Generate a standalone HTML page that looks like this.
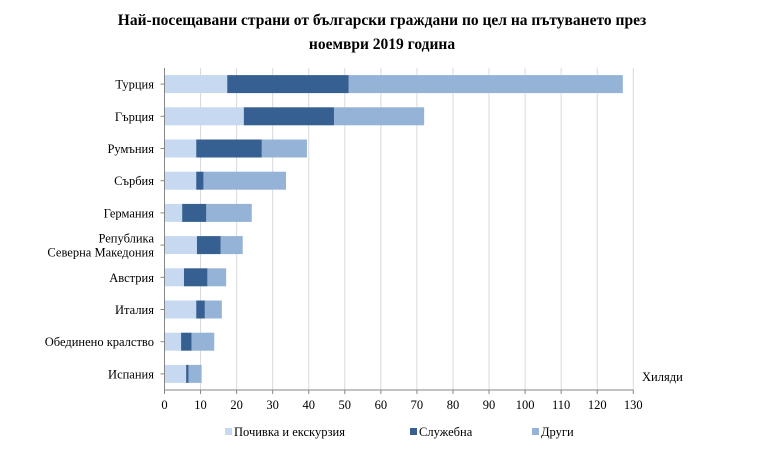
<!DOCTYPE html>
<html><head><meta charset="utf-8">
<style>
html,body{margin:0;padding:0;background:#fff;}
svg text{font-family:"Liberation Serif","DejaVu Serif",serif;fill:#000;}
</style></head>
<body>
<svg id="chart" width="768" height="460" viewBox="0 0 768 460" xmlns="http://www.w3.org/2000/svg">
<text x="382" y="25" text-anchor="middle" font-size="15.5" font-weight="bold">Най-посещавани страни от български граждани по цел на пътуването през</text>
<text x="382" y="49" text-anchor="middle" font-size="15.5" font-weight="bold">ноември 2019 година</text>
<g id="grid"></g>
<g id="bars"></g>
<g id="axes"></g>
<text x="642" y="381" font-size="12.5">Хиляди</text>
<g id="legend"></g>
</svg>
<script>
const categories = ["Турция","Гърция","Румъния","Сърбия","Германия","Република|Северна Македония","Австрия","Италия","Обединено кралство","Испания"];
const leisure = [17.4, 22, 8.8, 8.8, 4.9, 9, 5.4, 8.8, 4.6, 6];
const business = [33.7, 25, 18.2, 2, 6.7, 6.6, 6.5, 2.4, 2.9, 0.7];
const other = [76, 25, 12.5, 22.9, 12.6, 6.1, 5.2, 4.7, 6.3, 3.6];
const seriesNames = ["Почивка и екскурзия","Служебна","Други"];
const xTicks = [0,10,20,30,40,50,60,70,80,90,100,110,120,130];

const NS="http://www.w3.org/2000/svg";
const x0=164.5, unit=3.606, plotTop=68, band=32.2, barH=18, axisY=390;
const colors=["#c6d9f1","#376092","#95b3d7"];
const xs=v=>x0+v*unit;
const yc=i=>plotTop+band*i+band/2;
function mk(tag,attrs,parent){const e=document.createElementNS(NS,tag);for(const k in attrs)e.setAttribute(k,attrs[k]);parent.appendChild(e);return e;}
const grid=document.getElementById('grid'),bars=document.getElementById('bars'),axes=document.getElementById('axes'),legend=document.getElementById('legend');
xTicks.forEach(t=>{
  if(t>0){const g=mk('line',{x1:xs(t),x2:xs(t),y1:plotTop,y2:axisY,stroke:'#d9d9d9','stroke-width':1},grid);
  
  }
  const tk=mk('line',{x1:xs(t),x2:xs(t),y1:axisY,y2:axisY+4,stroke:'#868686'},axes);
  
  
  const tl=mk('text',{x:xs(t),y:axisY+19,'text-anchor':'middle','font-size':12.5},axes);
  tl.textContent=t;
  
  
});
const series=[leisure,business,other];
categories.forEach((c,i)=>{
  let acc=0;
  series.forEach((s,j)=>{
    const r=mk('rect',{x:xs(acc),y:yc(i)-barH/2,width:s[i]*unit,height:barH,fill:colors[j]},bars);
    
    
    acc+=s[i];
  });
  const t=mk('line',{x1:x0-4,x2:x0,y1:yc(i),y2:yc(i),stroke:'#868686'},axes);
  
  
  const parts=c.split('|');
  const lbl=mk('text',{x:154,y:yc(i)+4.5-(parts.length-1)*7,'text-anchor':'end','font-size':12.5},axes);
  
  
  parts.forEach((p,k)=>{const ts=mk('tspan',{x:154,dy:k?14:0},lbl);ts.textContent=p;});
});
const ya=mk('line',{x1:x0,x2:x0,y1:plotTop,y2:axisY,stroke:'#868686'},axes);


const xa=mk('line',{x1:x0,x2:xs(130),y1:axisY,y2:axisY,stroke:'#868686'},axes);


const lx=[225,410,532];
seriesNames.forEach((n,j)=>{
  const g=mk('g',{},legend);
  
  
  mk('rect',{x:lx[j],y:428,width:7,height:7,fill:colors[j]},g);
  const t=mk('text',{x:lx[j]+9,y:436,'font-size':12.5},g);
  t.textContent=n;
});
</script>
</body></html>
